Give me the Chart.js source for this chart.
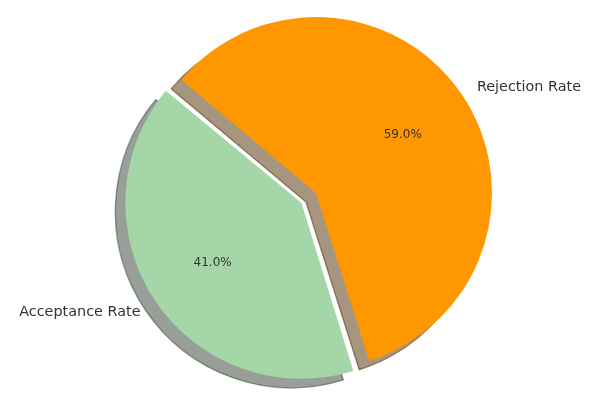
<!DOCTYPE html>
<html><head><meta charset="utf-8">
<script src="https://cdn.jsdelivr.net/npm/chart.js@4/dist/chart.umd.min.js"></script>
<style>html,body{margin:0;padding:0;background:#fff}canvas{display:block}</style>
</head><body>
<canvas id="c" width="607" height="397"></canvas>
<script>
const categories = ["Acceptance Rate", "Rejection Rate"];
const rates = [41.0, 59.0];
const sliceColors = ["#a5d6a7", "#ff9800"];
const shadowColors = ["rgba(50,64,50,0.5)", "rgba(77,46,0,0.5)"];
const explode = [0.1, 0];

const R = 176;
const startAngleDeg = 140;
const shadowDX = -10, shadowDY = 9;
const total = rates.reduce((a, b) => a + b, 0);
const rotation = 90 - (startAngleDeg + rates[0] / total * 360);

const piePlugin = {
  id: 'mplPie',
  beforeDatasetsDraw(chart) {
    const ctx = chart.ctx;
    const meta = chart.getDatasetMeta(0);
    meta.data.forEach((el) => {
      const off = (el.options.offset || 0) / 4;
      const fix = 1 - Math.sin(Math.min(Math.PI, el.circumference));
      el.outerRadius = R - off * fix;
    });
    ctx.save();
    ctx.translate(shadowDX, shadowDY);
    meta.data.forEach((el, i) => {
      const saved = el.options;
      el.options = Object.assign({}, saved, {
        backgroundColor: shadowColors[i], borderColor: shadowColors[i], borderWidth: 1.4
      });
      el.draw(ctx);
      el.options = saved;
    });
    ctx.restore();
  },
  afterDatasetsDraw(chart) {
    const ctx = chart.ctx;
    const meta = chart.getDatasetMeta(0);
    ctx.save();
    ctx.fillStyle = '#333333';
    meta.data.forEach((el, i) => {
      const mid = (el.startAngle + el.endAngle) / 2;
      const off = (el.options.offset || 0) / 4;
      const c = Math.cos(mid), s = Math.sin(mid);
      const cx = el.x + c * off, cy = el.y + s * off;
      ctx.font = '14.4px "DejaVu Sans"';
      ctx.textBaseline = 'middle';
      ctx.textAlign = c < 0 ? 'right' : 'left';
      ctx.fillText(categories[i], cx + c * R * 1.1, cy + s * R * 1.1 + 1.5);
      ctx.font = '12px "DejaVu Sans"';
      ctx.textAlign = 'center';
      ctx.fillText(rates[i].toFixed(1) + '%', cx + c * R * 0.6 - 1, cy + s * R * 0.6 + 1);
    });
    ctx.restore();
  }
};

new Chart(document.getElementById('c'), {
  type: 'pie',
  data: {
    labels: categories,
    datasets: [{
      data: rates,
      backgroundColor: sliceColors,
      borderWidth: 0,
      offset: explode.map(e => e * R * 4),
      radius: R
    }]
  },
  options: {
    responsive: false,
    animation: false,
    devicePixelRatio: 1,
    rotation: rotation,
    radius: R,
    layout: { padding: { left: 25, right: 0, top: 0, bottom: 11 } },
    plugins: { legend: { display: false }, tooltip: { enabled: false } },
    events: []
  },
  plugins: [piePlugin]
});
</script>
</body></html>
